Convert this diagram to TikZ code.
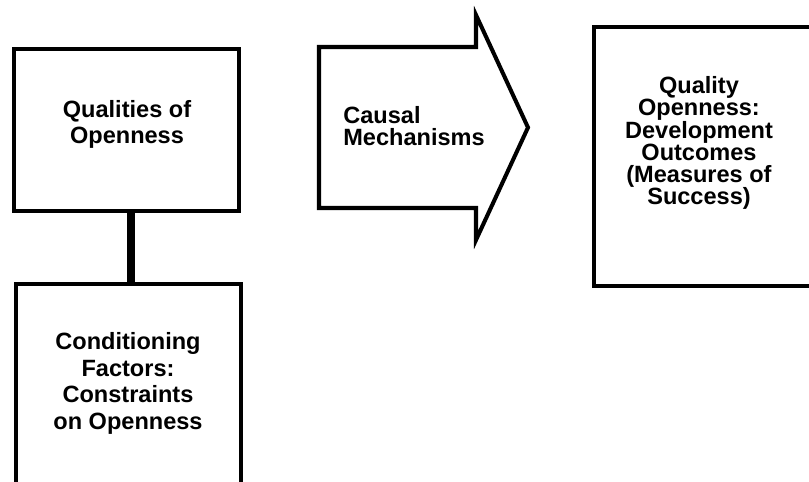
\documentclass[tikz,border=0pt]{standalone}
\usepackage{fontspec}
\setmainfont{Liberation Sans}
\usetikzlibrary{positioning,calc}

\begin{document}
\begin{tikzpicture}[
    x=0.02cm, y=-0.02cm,
    box/.style={rectangle, draw, line width=2.3pt, fill=white, inner sep=0pt},
    lbl/.style={font=\fontsize{13.4}{15.2}\selectfont\bfseries, align=center, inner sep=0pt},
    tight/.style={font=\fontsize{13.4}{12.6}\selectfont\bfseries},
    conn/.style={line width=4.3pt},
    bigarr/.style={draw, line width=2.3pt, line join=miter, fill=white},
  ]

  \useasboundingbox (0,0) rectangle (809,482);
  \clip (0,0) rectangle (809,482);

  % Qualities
  \node[box, minimum width=4.5cm, minimum height=3.24cm] (qual) at (126.5,130) {};
  \node[lbl] (qualtxt) at (127,124.5) {Qualities of\\Openness};

  % Conditioning factors
  \node[box, minimum width=4.5cm, minimum height=4.72cm] (cond) at (128.5,402) {};
  \node[lbl] (condtxt) at (128,383.5) {Conditioning\\Factors:\\Constraints\\on Openness};

  % Link
  \draw[conn] ([xshift=0.09cm]qual.south) -- ([xshift=0.09cm]qual.south |- cond.north);

  % Causal mechanisms (block arrow)
  \coordinate (mbl) at (319,47);
  \coordinate (mtip) at (528,127.5);
  \draw[bigarr] (mbl) -- (476,47) -- (476,15) -- (mtip) -- (476,240)
    -- (476,208) -- (319,208) -- cycle;
  \node[lbl, tight, align=left, anchor=west] (mech) at (343,126) {Causal\\Mechanisms};

  % Outcomes
  \node[box, minimum width=4.72cm, minimum height=5.18cm] (outc) at (712,156.5) {};
  \node[lbl, tight] (outctxt) at (699,143) {Quality\\Openness:\\Development\\Outcomes\\(Measures of\\Success)};

\end{tikzpicture}
\end{document}
